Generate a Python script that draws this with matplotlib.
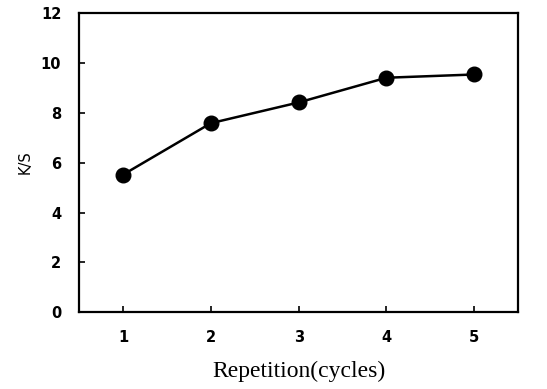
import matplotlib
matplotlib.use("Agg")
import matplotlib.pyplot as plt

cycles = [1, 2, 3, 4, 5]
ks = [5.52, 7.58, 8.41, 9.40, 9.53]
yticks = [0, 2, 4, 6, 8, 10, 12]

fig = plt.figure(figsize=(5.47, 3.89), dpi=100)
ax = fig.add_axes([0.145, 0.197, 0.802, 0.770])

ax.plot(cycles, ks, color="black", linewidth=1.8, marker="o", markersize=10.5)

ax.set_xlim(0.5, 5.5)
ax.set_ylim(0, 12)
ax.set_xticks(cycles)
ax.set_yticks(yticks)

for sp in ax.spines.values():
    sp.set_linewidth(1.6)

ax.tick_params(direction="in", length=4, width=1.2)
ax.tick_params(axis="y", pad=13)
ax.tick_params(axis="x", pad=13)
for lbl in ax.get_xticklabels() + ax.get_yticklabels():
    lbl.set_fontweight("bold")
    lbl.set_fontsize(10.5)
    lbl.set_fontfamily("DejaVu Sans")

ax.set_ylabel("K/S", fontsize=10.5, fontfamily="DejaVu Sans", labelpad=6)
ax.set_xlabel("Repetition(cycles)", fontsize=17, fontfamily="Liberation Serif", labelpad=11)

fig.savefig("out.png", dpi=100)
